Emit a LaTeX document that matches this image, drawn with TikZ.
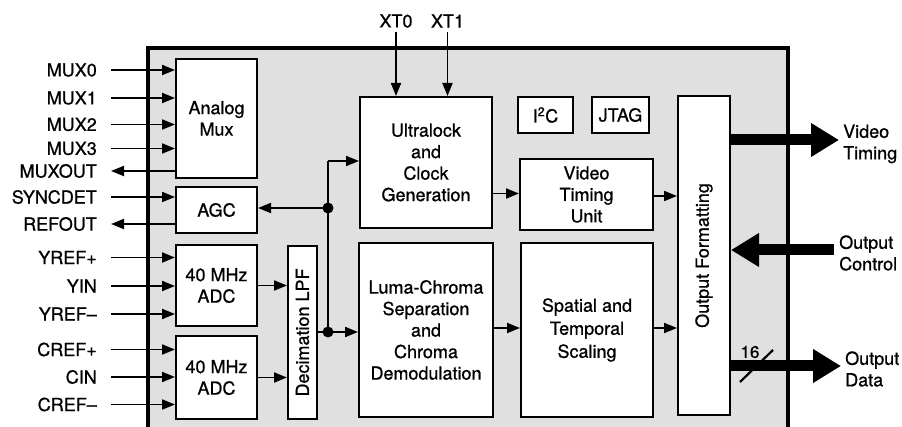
\documentclass[tikz,border=0pt]{standalone}
\usepackage{fontspec}
\setmainfont{TeX Gyre Heros}
\newfontfamily\hv[FakeBold=0.8,Ligatures=TeX]{TeX Gyre Heros}
\usetikzlibrary{arrows.meta}
\begin{document}
\begin{tikzpicture}[x=1pt,y=-1pt,
  every node/.style={font=\hv\fontsize{18}{21.5}\selectfont},
  blk/.style={draw, fill=white, line width=2pt, inner sep=0pt, align=center},
  lbl/.style={inner sep=0pt, anchor=east},
  rlbl/.style={inner sep=0pt, anchor=west, align=left},
  arr/.style={line width=1.9pt, -{Triangle[length=13pt,width=10pt]}},
  ln/.style={line width=1.9pt},
  big/.style={line width=11pt, -{Triangle[length=28pt,width=32pt]}},
  dot/.style={circle, fill=black, inner sep=0pt, minimum size=11pt}]

\useasboundingbox (0,0) rectangle (902,427);
\fill[black!12] (148,48) rectangle (788,427);
\draw[line width=3.2pt] (148,427) -- (148,48) -- (788,48) -- (788,427);

% blocks
\node[blk, minimum width=81pt, minimum height=119pt] (mux) at (216.5,118.5) {Analog\\Mux};
\node[blk, minimum width=81pt, minimum height=46pt] (agc) at (216.5,210) {AGC};
\node[blk, minimum width=81pt, minimum height=81pt] (adc1) at (216.5,285.5) {40 MHz\\ADC};
\node[blk, minimum width=81pt, minimum height=83pt] (adc2) at (216.5,377.5) {40 MHz\\ADC};
\node[blk, minimum width=29pt, minimum height=173pt, label={[rotate=90]center:Decimation LPF}] (lpf) at (302.5,332.5) {};
\node[blk, minimum width=132pt, minimum height=131pt] (ultra) at (426,162.5) {Ultralock\\and\\Clock\\Generation};
\node[blk, minimum width=55pt, minimum height=36pt] (i2c) at (545.5,115) {I\textsuperscript{2}C};
\node[blk, minimum width=57pt, minimum height=36pt] (jtag) at (620.5,115) {JTAG};
\node[blk, minimum width=133pt, minimum height=71pt] (vtu) at (586.5,194.5) {Video\\Timing\\Unit};
\node[blk, minimum width=134pt, minimum height=174pt] (luma) at (426,330) {Luma-Chroma\\Separation\\and\\Chroma\\Demodulation};
\node[blk, minimum width=132pt, minimum height=174pt, font=\hv\fontsize{18}{23}\selectfont] (spat) at (587,330) {Spatial and\\Temporal\\Scaling};
\node[blk, minimum width=52pt, minimum height=319pt, label={[rotate=90]center:Output Formatting}] (of) at (704,255.5) {};

% left labels and coordinates
\foreach \nm/\txt/\yy in {m0/MUX0/70, m1/MUX1/98, m2/MUX2/124.5, m3/MUX3/148.5, mo/MUXOUT/171,
  sd/SYNCDET/197, rf/REFOUT/224, yp/YREF+/257.5, yi/YIN/286, ym/YREF–/314,
  cp/CREF+/349.5, ci/CIN/377, cm/CREF–/404.5}{
  \node[lbl] (l\nm) at (97,\yy) {\txt};
  \coordinate (\nm) at (111,\yy);
}
\foreach \nm in {m0,m1,m2,m3}{\draw[arr] (\nm) -- (\nm -| mux.west);}
\draw[arr] (mo -| mux.west) -- (mo);
\draw[arr] (sd) -- (sd -| agc.west);
\draw[arr] (rf -| agc.west) -- (rf);
\foreach \nm in {yp,yi,ym}{\draw[arr] (\nm) -- (\nm -| adc1.west);}
\foreach \nm in {cp,ci,cm}{\draw[arr] (\nm) -- (\nm -| adc2.west);}

% ADC to LPF
\draw[arr] (adc1.east) -- (adc1.east -| lpf.west);
\draw[arr] (adc2.east) -- (adc2.east -| lpf.west);

% junctions
\node[dot] (j1) at (328,208) {};
\node[dot] (j2) at (328,332) {};
\coordinate (j3) at (328,161);
\draw[arr] (j2 -| lpf.east) -- (j2 -| luma.west);
\draw[ln] (j2.center) -- (j3);
\draw[arr] (j3) -- (j3 -| ultra.west);
\draw[arr] (j1.center) -- (j1 -| agc.east);

% XT inputs
\node[inner sep=0pt] (xt0) at (396,21) {XT0};
\node[inner sep=0pt] (xt1) at (447.5,21) {XT1};
\draw[arr] (396,32) -- (396,32 |- ultra.north);
\draw[arr] (447.5,32) -- (447.5,32 |- ultra.north);

% internal flows
\coordinate (u1) at (0,193.5);
\draw[arr] (u1 -| ultra.east) -- (u1 -| vtu.west);
\coordinate (u2) at (0,196);
\draw[arr] (u2 -| vtu.east) -- (u2 -| of.west);
\coordinate (u3) at (0,328);
\draw[arr] (u3 -| luma.east) -- (u3 -| spat.west);
\draw[arr] (u3 -| spat.east) -- (u3 -| of.west);

% big arrows right
\coordinate (vt) at (839,140);
\draw[big] (vt -| of.east) -- (vt);
\node[rlbl] (vtl) at (843,144) {Video\\Timing};
\coordinate (oc) at (834,250);
\draw[big] (oc) -- (oc -| of.east);
\node[rlbl] (ocl) at (839,253) {Output\\Control};
\coordinate (od) at (841,366);
\draw[big] (od -| of.east) -- (od);
\node[rlbl] (odl) at (845,369) {Output\\Data};
\coordinate (s1) at (740,382);
\coordinate (s2) at (773,350);
\draw[line width=2.2pt] (s1) -- (s2);
\node[inner sep=0pt, font=\hv\fontsize{17}{20}\selectfont] (n16) at (750,352) {16};
\end{tikzpicture}
\end{document}
